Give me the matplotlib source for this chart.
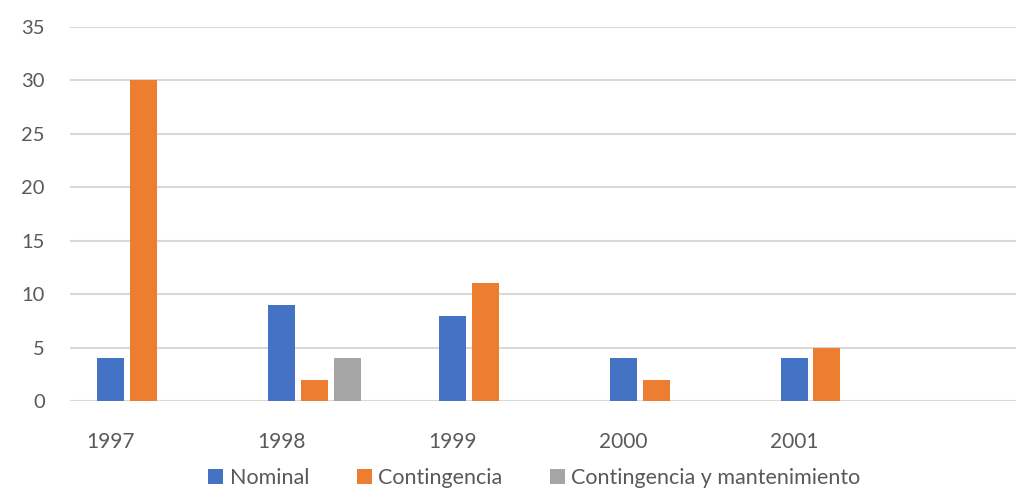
import numpy as np
import matplotlib.pyplot as plt

# ---data---
years = ['1997', '1998', '1999', '2000', '2001']
nominal = [4, 9, 8, 4, 4]
contingencia = [30, 2, 11, 2, 5]
contingencia_mant = [0, 4, 0, 0, 0]

series = [
    ('Nominal', nominal, '#4472C4'),
    ('Contingencia', contingencia, '#ED7D31'),
    ('Contingencia y mantenimiento', contingencia_mant, '#A5A5A5'),
]

plt.rcParams['font.family'] = ['Lato', 'DejaVu Sans']

fig = plt.figure(figsize=(10.18, 4.95), dpi=100)
ax = fig.add_axes([70 / 1018, (495 - 401) / 495, (1016 - 70) / 1018, (401 - 27) / 495])

x = np.arange(len(years))
step = 0.193
width = 0.158
for i, (name, vals, col) in enumerate(series):
    ax.bar(x + i * step, vals, width=width, color=col, label=name, zorder=3)

ax.set_ylim(0, 35)
ax.set_yticks(range(0, 36, 5))
ax.set_xlim(-0.24, 5.30)
ax.set_xticks(x)
ax.set_xticklabels(years)

ax.grid(axis='y', color='#D9D9D9', linewidth=1.5, zorder=0)
ax.grid(axis='x', visible=False)
for s in ax.spines.values():
    s.set_visible(False)
ax.tick_params(axis='both', length=0, labelcolor='#595959')
ax.tick_params(axis='y', pad=18, labelsize=14.5)
ax.tick_params(axis='x', pad=22, labelsize=15)

fig.legend(loc='center', bbox_to_anchor=(0.525, 0.034), ncol=3, frameon=False,
           fontsize=15.5, labelcolor='#595959', handlelength=0.7, handleheight=0.7,
           handletextpad=0.3, columnspacing=2.2, borderpad=0.1)

fig.savefig('out.png', dpi=100)
